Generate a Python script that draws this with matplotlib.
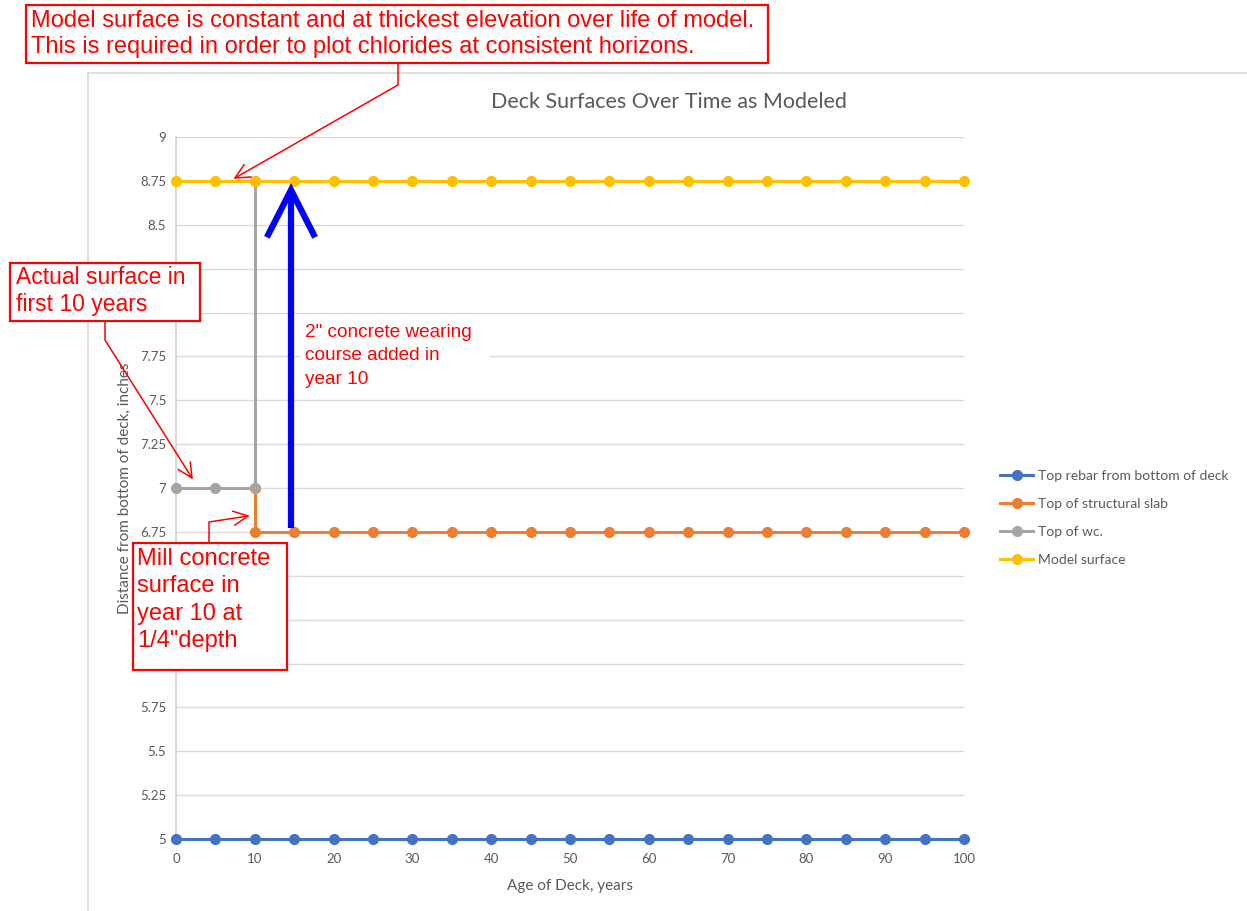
import numpy as np
import matplotlib
matplotlib.use("Agg")
import matplotlib.pyplot as plt
from matplotlib import transforms as mtransforms
from matplotlib.patches import Rectangle
from matplotlib.lines import Line2D

# ========================
# DATA
# ========================
years = [0, 5, 10, 15, 20, 25, 30, 35, 40, 45, 50,
         55, 60, 65, 70, 75, 80, 85, 90, 95, 100]
rebar_top = [5.0, 5.0, 5.0, 5.0, 5.0, 5.0, 5.0, 5.0, 5.0, 5.0, 5.0,
             5.0, 5.0, 5.0, 5.0, 5.0, 5.0, 5.0, 5.0, 5.0, 5.0]

slab_years = [10, 10, 15, 20, 25, 30, 35, 40, 45, 50, 55,
              60, 65, 70, 75, 80, 85, 90, 95, 100]
slab_top = [7.0, 6.75, 6.75, 6.75, 6.75, 6.75, 6.75, 6.75, 6.75, 6.75, 6.75,
            6.75, 6.75, 6.75, 6.75, 6.75, 6.75, 6.75, 6.75, 6.75]

wc_years = [0, 5, 10, 10]
wc_top = [7.0, 7.0, 7.0, 8.75]

model_surface = [8.75, 8.75, 8.75, 8.75, 8.75, 8.75, 8.75, 8.75, 8.75, 8.75, 8.75,
                 8.75, 8.75, 8.75, 8.75, 8.75, 8.75, 8.75, 8.75, 8.75, 8.75]

series = [
    ("Top rebar from bottom of deck", years, rebar_top, "#4472C4"),
    ("Top of structural slab", slab_years, slab_top, "#ED7D31"),
    ("Top of wc.", wc_years, wc_top, "#A5A5A5"),
    ("Model surface", years, model_surface, "#FFC000"),
]

y_ticks = [5, 5.25, 5.5, 5.75, 6, 6.25, 6.5, 6.75, 7,
           7.25, 7.5, 7.75, 8, 8.25, 8.5, 8.75, 9]
# labels sitting under the callout boxes are left blank
y_tick_labels = ["5", "5.25", "5.5", "5.75", "", "", "", "6.75", "7",
                 "7.25", "7.5", "7.75", "", "", "8.5", "8.75", "9"]
x_ticks = [0, 10, 20, 30, 40, 50, 60, 70, 80, 90, 100]

# ========================
# FIGURE
# ========================
W, H = 1247, 911
TXT = "#595959"
RED = "#FF0000"
CHART_FONT = ["Lato", "DejaVu Sans"]
NOTE_FONT = ["Liberation Sans", "DejaVu Sans"]

fig = plt.figure(figsize=(W / 100, H / 100), dpi=100)
fig.patch.set_facecolor("white")
# pixel coordinates, origin top-left
PX = mtransforms.Affine2D().scale(1 / W, -1 / H).translate(0, 1) + fig.transFigure

ax = fig.add_axes([176 / W, 1 - 839 / H, (964 - 176) / W, (839 - 137) / H])

for label, xs, ys, color in series:
    ax.plot(xs, ys, color=color, linewidth=2.2, marker="o", markersize=7,
            label=label, clip_on=False, zorder=3)

ax.set_xlim(0, 100)
ax.set_ylim(5, 9)
ax.set_xticks(x_ticks)
ax.set_yticks(y_ticks)
ax.set_yticklabels(y_tick_labels)
ax.tick_params(length=0, labelsize=9.5, labelcolor=TXT)
ax.tick_params(axis="y", pad=7)
ax.tick_params(axis="x", pad=10)
for lab in ax.get_xticklabels() + ax.get_yticklabels():
    lab.set_family(CHART_FONT)

ax.grid(axis="y", color="#d9d9d9", linewidth=1.0)
ax.set_axisbelow(True)
for side in ["top", "right", "bottom"]:
    ax.spines[side].set_visible(False)
ax.spines["left"].set_color("#d0d0d0")
ax.spines["left"].set_linewidth(1.2)

ax.set_xlabel("Age of Deck, years", fontsize=11, color=TXT,
              family=CHART_FONT, labelpad=10)
ax.set_ylabel("Distance from bottom of deck, inches", fontsize=11, color=TXT,
              family=CHART_FONT, labelpad=6)

fig.text(669 / W, 1 - 102 / H, "Deck Surfaces Over Time as Modeled",
         ha="center", va="center", fontsize=15.5, color=TXT, family=CHART_FONT)

leg = ax.legend(loc="upper left", bbox_to_anchor=(1000 / W, 1 - 470 / H),
                bbox_transform=fig.transFigure, frameon=False, borderpad=0,
                borderaxespad=0, handlelength=2.4, handletextpad=0.35,
                labelspacing=1.15, prop={"family": CHART_FONT, "size": 10})
for t in leg.get_texts():
    t.set_color(TXT)

# chart area border
fig.add_artist(Line2D([88, 88], [73, 915], transform=PX, color="#d9d9d9", lw=1.2))
fig.add_artist(Line2D([88, 1250], [73, 73], transform=PX, color="#d9d9d9", lw=1.2))


# ========================
# CALLOUTS
# ========================
def box(x0, y0, x1, y1, z=10):
    fig.add_artist(Rectangle((x0, y0), x1 - x0, y1 - y0, transform=PX,
                             facecolor="white", edgecolor=RED, lw=1.6, zorder=z))


def polyline(xs, ys, color=RED, lw=1.1, z=11, **kw):
    fig.add_artist(Line2D(xs, ys, transform=PX, color=color, lw=lw, zorder=z, **kw))


def open_head(tip, start, length=16, half_angle=26, color=RED, lw=1.1, z=11):
    u = np.array(tip, float) - np.array(start, float)
    u /= np.hypot(*u)
    pts = []
    for a in (half_angle, -half_angle):
        r = np.radians(a)
        rot = np.array([[np.cos(r), -np.sin(r)], [np.sin(r), np.cos(r)]])
        pts.append(np.array(tip) - length * rot @ u)
    polyline([pts[0][0], tip[0], pts[1][0]], [pts[0][1], tip[1], pts[1][1]],
             color=color, lw=lw, z=z, solid_joinstyle="miter")


# top note: model surface
box(26, 5, 768, 63)
fig.text(31 / W, 1 - 34 / H,
         "Model surface is constant and at thickest elevation over life of model.\n"
         "This is required in order to plot chlorides at consistent horizons.",
         ha="left", va="center", fontsize=17, color=RED, family=NOTE_FONT,
         linespacing=1.23, zorder=12)
polyline([398, 398, 235], [63, 85, 178])
open_head((235, 178), (398, 85))

# actual surface note
box(10, 263, 200, 321)
fig.text(16 / W, 1 - 291 / H, "Actual surface in\nfirst 10 years",
         ha="left", va="center", fontsize=16.5, color=RED, family=NOTE_FONT,
         linespacing=1.23, zorder=12)
polyline([105, 105, 192], [321, 340, 478])
open_head((192, 478), (105, 340))

# mill note
box(133, 543, 287, 670)
fig.text(137 / W, 1 - 600 / H, "Mill concrete\nsurface in\nyear 10 at\n1/4\"depth",
         ha="left", va="center", fontsize=17, color=RED, family=NOTE_FONT,
         linespacing=1.32, zorder=12)
polyline([209, 209, 248], [543, 522, 516])
open_head((248, 516), (209, 522))

# wearing course note
fig.add_artist(Rectangle((300, 318), 190, 75, transform=PX, facecolor="white",
                         edgecolor="none", zorder=5))
fig.text(305 / W, 1 - 356 / H, "2\" concrete wearing\ncourse added in\nyear 10",
         ha="left", va="center", fontsize=13.7, color=RED, family=NOTE_FONT,
         linespacing=1.52, zorder=6)

# blue arrow
polyline([291, 291], [528, 192], color="#0000FF", lw=4.5, z=7, solid_capstyle="butt")
open_head((291, 190), (291, 528), length=50, half_angle=27, color="#0000FF", lw=4.5, z=7)

fig.savefig("out.png", dpi=100)
